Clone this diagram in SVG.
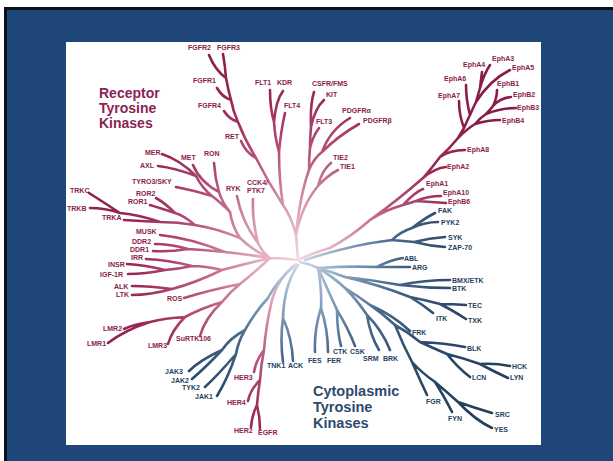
<svg xmlns="http://www.w3.org/2000/svg" width="613" height="461" viewBox="0 0 613 461">
<defs>
<radialGradient id="gp" gradientUnits="userSpaceOnUse" cx="298" cy="260" r="230">
<stop offset="0" stop-color="#f3d9e3"/><stop offset="0.2" stop-color="#dca3ba"/><stop offset="0.45" stop-color="#b9567f"/><stop offset="0.7" stop-color="#9a2a58"/><stop offset="1" stop-color="#8a1c48"/>
</radialGradient>
<radialGradient id="gb" gradientUnits="userSpaceOnUse" cx="298" cy="260" r="220">
<stop offset="0" stop-color="#d3dde9"/><stop offset="0.2" stop-color="#8fa7c2"/><stop offset="0.45" stop-color="#456689"/><stop offset="0.7" stop-color="#2d4a6c"/><stop offset="1" stop-color="#263f5e"/>
</radialGradient>
<style>
text{font-family:"Liberation Sans",Arial,sans-serif;font-weight:bold}
.p{fill:#8b1d4c;font-size:7px}
.b{fill:#253f5e;font-size:7px}
.hp{fill:#8a2455;font-size:14px}
.hb{fill:#2c4a6e;font-size:14.5px}
.ep{fill:none;stroke:url(#gp);stroke-width:2.6;stroke-linecap:round}
.eb{fill:none;stroke:url(#gb);stroke-width:2.6;stroke-linecap:round}
</style>
</defs>
<rect x="0" y="0" width="613" height="461" fill="#ffffff"/>
<rect x="4" y="7" width="609" height="454" fill="#0b0f16"/>
<rect x="7" y="10" width="606" height="451" fill="#1f4678"/>
<rect x="66" y="42" width="475" height="403" fill="#ffffff"/>
<g id="connectors">
<path class="ep" d="M298 260 Q297 248 296 235 M296 235 Q292 218 283 205 M283 205 Q268 182 256 158 M256 158 Q245 140 238 122 M238 122 Q233 111 231 100 M231 100 Q228 89 226 78 M226 78 Q215 70 209 55 M226 78 Q225 65 223 54 M231 100 Q222 97 217 88 M238 122 Q229 119 224 111 M256 158 Q246 153 241 141 M283 205 Q279 180 279 152 M279 152 Q275 138 274 122 M274 122 Q270 108 270 90 M274 122 Q276 100 283 91 M279 152 Q281 130 285 113 M296 235 Q300 195 309 170 M309 170 Q309 158 310 148 M310 148 Q310 138 311 127 M311 127 Q310 105 314 92 M311 127 Q315 108 324 100 M310 148 Q313 136 319 128 M309 170 Q314 158 322 152 M322 152 Q330 130 350 118 M322 152 Q338 136 359 124 M296 235 Q302 205 318 186 M318 186 Q322 170 331 163 M318 186 Q328 175 338 170"/>
<path class="ep" d="M298 260 Q284 258 270 258 M270 258 Q262 252 258 243 M258 243 Q242 222 237 196 M258 243 Q252 220 253 199 M270 258 Q252 250 240 238 M240 238 Q232 226 230 212 M230 212 Q220 202 212 196 M212 196 Q202 188 196 176 M196 176 Q180 160 162 154 M196 176 Q175 168 158 166 M212 196 Q192 190 176 187 M230 212 Q222 202 219 192 M219 192 Q200 182 193 165 M219 192 Q215 178 214 163 M240 238 Q215 228 195 225 M195 225 Q178 222 160 222 M160 222 Q140 215 120 213 M120 213 Q100 200 89 193 M120 213 Q105 208 90 208 M160 222 Q140 221 124 220 M195 225 Q183 215 175 213 M175 213 Q165 203 156 198 M175 213 Q160 208 150 205 M270 258 Q245 254 225 252 M225 252 Q190 238 160 235 M225 252 Q205 250 188 249 M188 249 Q170 244 155 244 M188 249 Q170 252 153 251 M270 258 Q245 264 222 270 M222 270 Q205 266 192 266 M192 266 Q168 260 146 259 M192 266 Q178 269 165 270 M165 270 Q145 265 127 264 M165 270 Q145 274 128 274 M222 270 Q195 283 172 289 M172 289 Q150 286 132 286 M172 289 Q150 295 132 295 M270 258 Q255 272 240 284 M240 284 Q210 290 184 298 M240 284 Q230 292 222 302 M222 302 Q205 318 200 336 M222 302 Q202 308 185 317 M185 317 Q172 330 168 344 M185 317 Q165 318 150 322 M150 322 Q135 324 124 329 M150 322 Q125 330 108 343"/>
<path class="ep" d="M298 260 Q315 252 330 248 M330 248 Q352 236 370 220 M370 220 Q398 200 423 178 M423 178 Q432 168 440 157 M440 157 Q450 148 458 138 M458 138 Q461 133 464 128 M464 128 Q467 121 470 115 M470 115 Q473 108 476 102 M476 102 Q478 95 480 88 M480 88 Q484 74 490 65 M480 88 Q481 80 482 72 M476 102 Q490 80 510 70 M470 115 Q466 100 466 85 M464 128 Q459 115 459 101 M458 138 Q467 129 475 124 M475 124 Q480 118 486 114 M486 114 Q490 110 493 106 M493 106 Q497 98 497 90 M493 106 Q500 98 511 97 M486 114 Q500 108 516 108 M475 124 Q488 120 500 120 M440 157 Q450 150 465 150 M423 178 Q435 168 446 167 M370 220 Q385 210 403 205 M403 205 Q415 192 423 189 M403 205 Q410 203 416 201 M416 201 Q428 196 441 196 M416 201 Q430 202 446 203"/>
<path class="ep" d="M296 264 Q278 278 272 300 M272 300 Q266 325 264 350 M264 350 Q256 360 254 372 M264 350 Q261 365 260 380 M260 380 Q250 390 248 401 M260 380 Q258 392 257 405 M257 405 Q252 415 251 427 M257 405 Q260 417 260 429"/>
<path class="eb" d="M294 266 Q276 282 268 298 M268 298 Q255 312 245 330 M245 330 Q230 338 222 350 M222 350 Q200 360 189 371 M222 350 Q205 368 192 379 M245 330 Q238 342 236 354 M236 354 Q218 375 205 387 M236 354 Q228 378 217 396 M298 265 Q284 285 283 318 M283 318 Q280 340 283 362 M283 318 Q292 338 293 361"/>
<path class="eb" d="M300 262 Q310 264 318 268 M318 268 Q322 290 321 308 M321 308 Q314 330 315 352 M321 308 Q328 330 328 352 M318 268 Q328 290 337 310 M337 310 Q337 330 341 346 M337 310 Q348 328 355 346 M318 268 Q332 276 345 288 M345 288 Q358 296 370 305 M370 305 Q383 314 395 325 M345 288 Q357 300 367 315 M367 315 Q370 335 379 350 M367 315 Q382 330 390 350 M370 305 Q393 315 410 331 M395 325 Q408 332 420 342 M420 342 Q445 343 465 347 M420 342 Q433 348 447 354 M447 354 Q457 367 470 377 M447 354 Q463 358 480 364 M480 364 Q495 363 510 366 M480 364 Q495 372 508 378 M395 325 Q403 345 412 362 M412 362 Q420 380 427 395 M412 362 Q422 373 435 382 M435 382 Q445 398 452 412 M435 382 Q447 392 458 402 M458 402 Q475 408 492 413 M458 402 Q475 420 492 428"/>
<path class="eb" d="M318 268 Q332 272 345 277 M345 277 Q372 280 400 285 M400 285 Q425 280 450 280 M400 285 Q425 288 450 288 M345 277 Q380 285 410 297 M410 297 Q422 304 433 313 M410 297 Q425 300 440 304 M440 304 Q453 304 466 305 M440 304 Q452 310 466 319 M318 268 Q348 266 377 267 M377 267 Q390 260 403 258 M377 267 Q393 267 410 267 M305 260 Q350 245 392 240 M392 240 Q400 232 412 228 M412 228 Q425 218 435 213 M412 228 Q425 222 438 222 M392 240 Q403 241 414 242 M414 242 Q430 238 445 237 M414 242 Q430 246 445 247"/>
</g>
<g id="title-rtk"><text class="hp" x="99" y="98">Receptor</text><text class="hp" x="99" y="113">Tyrosine</text><text class="hp" x="99" y="128">Kinases</text></g>
<g id="title-ctk"><text class="hb" x="313" y="396">Cytoplasmic</text><text class="hb" x="313" y="412">Tyrosine</text><text class="hb" x="313" y="428">Kinases</text></g>
<g id="n-FGFR2"><text class="p" x="188" y="50">FGFR2</text></g>
<g id="n-FGFR3"><text class="p" x="217" y="50">FGFR3</text></g>
<g id="n-FGFR1"><text class="p" x="193" y="83">FGFR1</text></g>
<g id="n-FGFR4"><text class="p" x="198" y="108">FGFR4</text></g>
<g id="n-RET"><text class="p" x="225" y="139">RET</text></g>
<g id="n-FLT1"><text class="p" x="255" y="85">FLT1</text></g>
<g id="n-KDR"><text class="p" x="277" y="85">KDR</text></g>
<g id="n-FLT4"><text class="p" x="284" y="108">FLT4</text></g>
<g id="n-CSFR"><text class="p" x="312" y="86">CSFR/FMS</text></g>
<g id="n-KIT"><text class="p" x="326" y="97">KIT</text></g>
<g id="n-FLT3"><text class="p" x="316" y="124">FLT3</text></g>
<g id="n-PDGFRa"><text class="p" x="342" y="113">PDGFRα</text></g>
<g id="n-PDGFRb"><text class="p" x="363" y="123">PDGFRβ</text></g>
<g id="n-TIE2"><text class="p" x="333" y="160">TIE2</text></g>
<g id="n-TIE1"><text class="p" x="340" y="169">TIE1</text></g>
<g id="n-MER"><text class="p" x="145" y="155">MER</text></g>
<g id="n-MET"><text class="p" x="181" y="160">MET</text></g>
<g id="n-RON"><text class="p" x="204" y="156">RON</text></g>
<g id="n-AXL"><text class="p" x="140" y="168">AXL</text></g>
<g id="n-TYRO3"><text class="p" x="132" y="184">TYRO3/SKY</text></g>
<g id="n-RYK"><text class="p" x="226" y="191">RYK</text></g>
<g id="n-CCK4"><text class="p" x="247" y="185">CCK4/</text><text class="p" x="247" y="193">PTK7</text></g>
<g id="n-TRKC"><text class="p" x="70" y="193">TRKC</text></g>
<g id="n-ROR2"><text class="p" x="136" y="196">ROR2</text></g>
<g id="n-ROR1"><text class="p" x="128" y="204">ROR1</text></g>
<g id="n-TRKB"><text class="p" x="67" y="211">TRKB</text></g>
<g id="n-TRKA"><text class="p" x="102" y="220">TRKA</text></g>
<g id="n-MUSK"><text class="p" x="136" y="234">MUSK</text></g>
<g id="n-DDR2"><text class="p" x="132" y="244">DDR2</text></g>
<g id="n-DDR1"><text class="p" x="130" y="252">DDR1</text></g>
<g id="n-IRR"><text class="p" x="131" y="260">IRR</text></g>
<g id="n-INSR"><text class="p" x="108" y="267">INSR</text></g>
<g id="n-IGF1R"><text class="p" x="100" y="277">IGF-1R</text></g>
<g id="n-ALK"><text class="p" x="114" y="289">ALK</text></g>
<g id="n-LTK"><text class="p" x="116" y="297">LTK</text></g>
<g id="n-ROS"><text class="p" x="167" y="301">ROS</text></g>
<g id="n-LMR2"><text class="p" x="103" y="331">LMR2</text></g>
<g id="n-LMR1"><text class="p" x="87" y="346">LMR1</text></g>
<g id="n-LMR3"><text class="p" x="148" y="348">LMR3</text></g>
<g id="n-SuRTK106"><text class="p" x="176" y="341">SuRTK106</text></g>
<g id="n-HER3"><text class="p" x="234" y="380">HER3</text></g>
<g id="n-HER4"><text class="p" x="227" y="405">HER4</text></g>
<g id="n-HER2"><text class="p" x="234" y="433">HER2</text></g>
<g id="n-EGFR"><text class="p" x="258" y="435">EGFR</text></g>
<g id="n-EphA4"><text class="p" x="463" y="67">EphA4</text></g>
<g id="n-EphA3"><text class="p" x="492" y="61">EphA3</text></g>
<g id="n-EphA5"><text class="p" x="512" y="70">EphA5</text></g>
<g id="n-EphA6"><text class="p" x="444" y="81">EphA6</text></g>
<g id="n-EphB1"><text class="p" x="497" y="86">EphB1</text></g>
<g id="n-EphA7"><text class="p" x="438" y="98">EphA7</text></g>
<g id="n-EphB2"><text class="p" x="513" y="97">EphB2</text></g>
<g id="n-EphB3"><text class="p" x="517" y="110">EphB3</text></g>
<g id="n-EphB4"><text class="p" x="502" y="123">EphB4</text></g>
<g id="n-EphA8"><text class="p" x="467" y="152">EphA8</text></g>
<g id="n-EphA2"><text class="p" x="447" y="169">EphA2</text></g>
<g id="n-EphA1"><text class="p" x="426" y="186">EphA1</text></g>
<g id="n-EphA10"><text class="p" x="443" y="195">EphA10</text></g>
<g id="n-EphB6"><text class="p" x="448" y="204">EphB6</text></g>
<g id="n-FAK"><text class="b" x="438" y="213">FAK</text></g>
<g id="n-PYK2"><text class="b" x="441" y="225">PYK2</text></g>
<g id="n-SYK"><text class="b" x="448" y="240">SYK</text></g>
<g id="n-ZAP70"><text class="b" x="448" y="250">ZAP-70</text></g>
<g id="n-ABL"><text class="b" x="404" y="261">ABL</text></g>
<g id="n-ARG"><text class="b" x="412" y="270">ARG</text></g>
<g id="n-BMX"><text class="b" x="452" y="283">BMX/ETK</text></g>
<g id="n-BTK"><text class="b" x="452" y="291">BTK</text></g>
<g id="n-TEC"><text class="b" x="468" y="308">TEC</text></g>
<g id="n-ITK"><text class="b" x="436" y="321">ITK</text></g>
<g id="n-TXK"><text class="b" x="468" y="323">TXK</text></g>
<g id="n-FRK"><text class="b" x="412" y="335">FRK</text></g>
<g id="n-BLK"><text class="b" x="467" y="351">BLK</text></g>
<g id="n-HCK"><text class="b" x="512" y="369">HCK</text></g>
<g id="n-LCN"><text class="b" x="472" y="380">LCN</text></g>
<g id="n-LYN"><text class="b" x="510" y="380">LYN</text></g>
<g id="n-FGR"><text class="b" x="426" y="404">FGR</text></g>
<g id="n-SRC"><text class="b" x="495" y="417">SRC</text></g>
<g id="n-FYN"><text class="b" x="448" y="421">FYN</text></g>
<g id="n-YES"><text class="b" x="494" y="432">YES</text></g>
<g id="n-SRM"><text class="b" x="363" y="361">SRM</text></g>
<g id="n-BRK"><text class="b" x="383" y="361">BRK</text></g>
<g id="n-CTK"><text class="b" x="333" y="354">CTK</text></g>
<g id="n-CSK"><text class="b" x="350" y="354">CSK</text></g>
<g id="n-FES"><text class="b" x="308" y="363">FES</text></g>
<g id="n-FER"><text class="b" x="327" y="363">FER</text></g>
<g id="n-TNK1"><text class="b" x="267" y="368">TNK1</text></g>
<g id="n-ACK"><text class="b" x="288" y="368">ACK</text></g>
<g id="n-JAK3"><text class="b" x="165" y="374">JAK3</text></g>
<g id="n-JAK2"><text class="b" x="171" y="383">JAK2</text></g>
<g id="n-TYK2"><text class="b" x="182" y="390">TYK2</text></g>
<g id="n-JAK1"><text class="b" x="195" y="399">JAK1</text></g>
</svg>
